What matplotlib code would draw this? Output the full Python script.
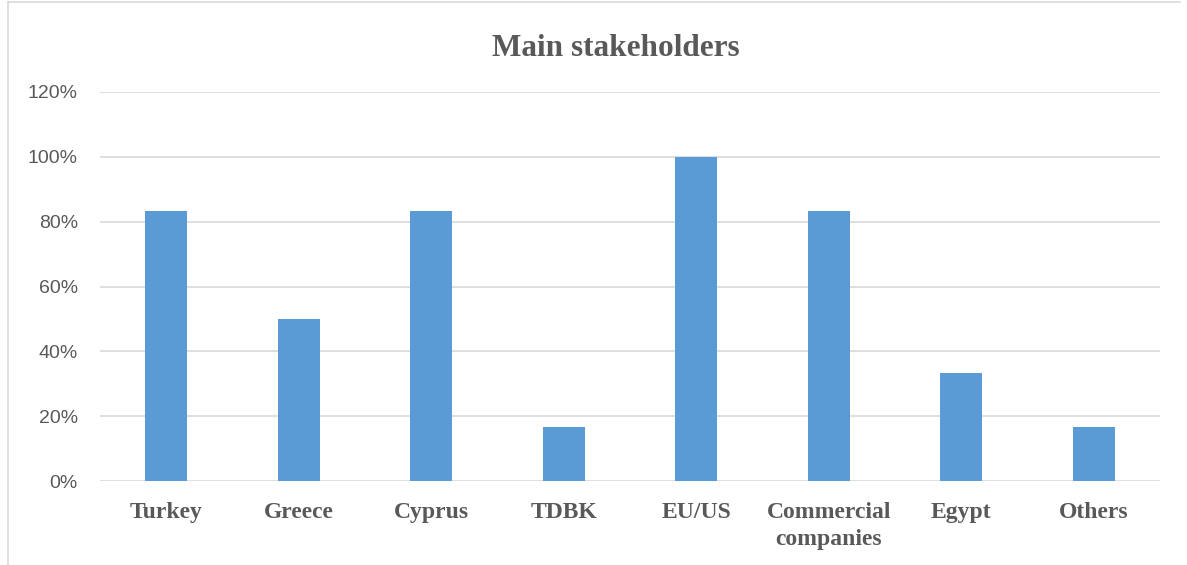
import matplotlib
matplotlib.use("Agg")
import matplotlib.pyplot as plt
from matplotlib.lines import Line2D
from matplotlib.ticker import FuncFormatter

categories = ["Turkey", "Greece", "Cyprus", "TDBK", "EU/US", "Commercial\ncompanies", "Egypt", "Others"]
values = [0.833, 0.50, 0.833, 0.167, 1.00, 0.833, 0.333, 0.167]
yticks = [0, 0.2, 0.4, 0.6, 0.8, 1.0, 1.2]

W, H = 1187, 565
fig = plt.figure(figsize=(W / 100, H / 100), dpi=100)
ax = fig.add_axes([100 / W, 1 - 481 / H, 1060 / W, 389 / H])

x = list(range(len(categories)))
ax.bar(x, values, width=0.317, color="#5B9BD5", zorder=3)
ax.set_xlim(-0.5, len(categories) - 0.5)
ax.set_ylim(0, 1.2)
ax.set_yticks(yticks)
ax.yaxis.set_major_formatter(FuncFormatter(lambda v, p: f"{v*100:.0f}%"))
ax.grid(axis="y", color="#D9D9D9", linewidth=1.2, zorder=0)
ax.set_axisbelow(True)
for s in ax.spines.values():
    s.set_visible(False)
ax.tick_params(axis="both", length=0)
ax.tick_params(axis="y", labelsize=14, labelcolor="#595959", pad=16)
ax.set_xticks(x)
ax.set_xticklabels(categories, fontfamily="Liberation Serif", fontweight="bold",
                   fontsize=17, color="#595959", linespacing=1.4)
ax.tick_params(axis="x", pad=15)
for lbl in ax.get_yticklabels():
    lbl.set_fontfamily("Liberation Sans")

fig.text(616 / W, 1 - 48 / H, "Main stakeholders", ha="center", va="center",
         fontfamily="Liberation Serif", fontweight="bold", fontsize=22.5, color="#595959")

fig.add_artist(Line2D([8 / W, 8 / W], [0, 1 - 2 / H], color="#D9D9D9", linewidth=1.2,
                      transform=fig.transFigure))
fig.add_artist(Line2D([8 / W, 1180 / W], [1 - 2 / H, 1 - 2 / H], color="#D9D9D9", linewidth=1.2,
                      transform=fig.transFigure))

fig.savefig("out.png", dpi=100)
